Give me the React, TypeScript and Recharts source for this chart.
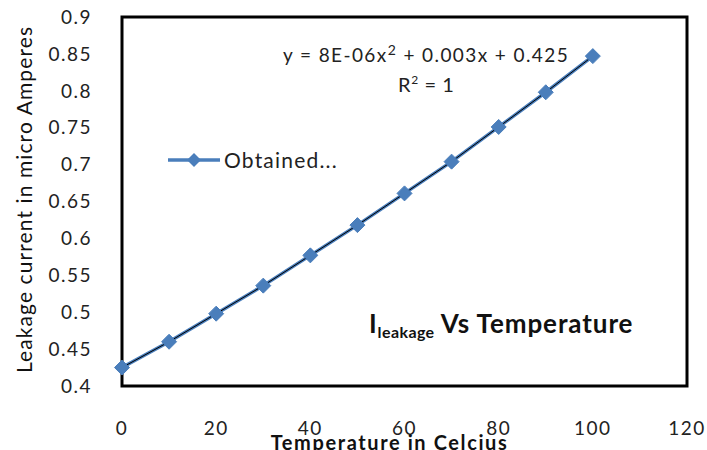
import React from 'react';
import { LineChart, Line, XAxis, YAxis, ReferenceArea } from 'recharts';

const temperatures = [0, 10, 20, 30, 40, 50, 60, 70, 80, 90, 100];
const leakage = [0.425, 0.46, 0.498, 0.536, 0.577, 0.618, 0.661, 0.704, 0.751, 0.798, 0.847];
const xTicks = [0, 20, 40, 60, 80, 100, 120];
const yTicks = [0.4, 0.45, 0.5, 0.55, 0.6, 0.65, 0.7, 0.75, 0.8, 0.85, 0.9];
const seriesName = 'Obtained...';

const data = temperatures.map((t, i) => ({ t, obtained: leakage[i], trend: leakage[i] }));

const FONT = 'Lato, "Open Sans", sans-serif';
const BLUE = '#4A7EBB';

const Diamond = (props: any) => {
  const { cx, cy } = props;
  if (cx == null || cy == null) return null;
  const r = 7.5;
  return (
    <path
      d={`M${cx},${cy - r}L${cx + r},${cy}L${cx},${cy + r}L${cx - r},${cy}Z`}
      fill={BLUE}
      stroke={BLUE}
      strokeWidth={1}
    />
  );
};

const tickStyle = { fontFamily: FONT, fontSize: 19, fill: '#222', letterSpacing: 1.5 };

export default function App() {
  return (
    <div style={{ position: 'absolute', left: 0, top: 0, width: 707, height: 450, background: '#fff' }}>
      <LineChart width={707} height={450} data={data} margin={{ top: 17, right: 20, left: 0, bottom: 0 }}>
        <XAxis
          dataKey="t"
          type="number"
          domain={[0, 120]}
          ticks={xTicks}
          axisLine={false}
          tickLine={false}
          height={64}
          tickMargin={30}
          tick={tickStyle}
          label={{
            value: 'Temperature in Celcius',
            position: 'insideBottom',
            offset: 0,
            dx: -15,
            style: { fontFamily: FONT, fontSize: 20, fontWeight: 'bold', fill: '#111', letterSpacing: 1.6 },
          }}
        />
        <YAxis
          type="number"
          domain={[0.4, 0.9]}
          ticks={yTicks}
          axisLine={false}
          tickLine={false}
          width={122}
          tickMargin={24}
          tick={tickStyle}
          label={{
            value: 'Leakage current in micro Amperes',
            angle: -90,
            position: 'insideLeft',
            offset: 25,
            dy: -2,
            style: { fontFamily: FONT, fontSize: 21, fill: '#111', textAnchor: 'middle', letterSpacing: 1.1 },
          }}
        />
        <ReferenceArea
          x1={0}
          x2={120}
          y1={0.4}
          y2={0.9}
          fill="none"
          fillOpacity={0}
          stroke="#000"
          strokeWidth={3}
          ifOverflow="visible"
        />
        <Line
          dataKey="obtained"
          name={seriesName}
          stroke={BLUE}
          strokeWidth={3.5}
          dot={<Diamond />}
          isAnimationActive={false}
        />
        <Line
          dataKey="trend"
          legendType="none"
          stroke="#000"
          strokeWidth={1}
          dot={false}
          isAnimationActive={false}
        />
        <g>
          <line x1={168} y1={160} x2={220} y2={160} stroke={BLUE} strokeWidth={3.5} />
          <path d="M194,153L201,160L194,167L187,160Z" fill={BLUE} />
          <text x={224} y={168} fontFamily={FONT} fontSize={21} fill="#222" letterSpacing={1.2}>
            {seriesName}
          </text>
        </g>
        <text x={283} y={62} fontFamily={FONT} fontSize={19} fill="#222" letterSpacing={1.4}>
          y = 8E-06x<tspan dy={-7} fontSize={14}>2</tspan>
          <tspan dy={7}> + 0.003x + 0.425</tspan>
        </text>
        <text x={398} y={92} fontFamily={FONT} fontSize={20} fill="#222" letterSpacing={0.6}>
          R<tspan dy={-8} fontSize={12}>2</tspan>
          <tspan dy={8}> = 1</tspan>
        </text>
        <text x={369} y={333} fontFamily={FONT} fontSize={26} fontWeight="bold" fill="#111" letterSpacing={0.9}>
          I<tspan dy={5} fontSize={16} letterSpacing={0.4}>leakage</tspan>
          <tspan dy={-5}> Vs Temperature</tspan>
        </text>
      </LineChart>
    </div>
  );
}
